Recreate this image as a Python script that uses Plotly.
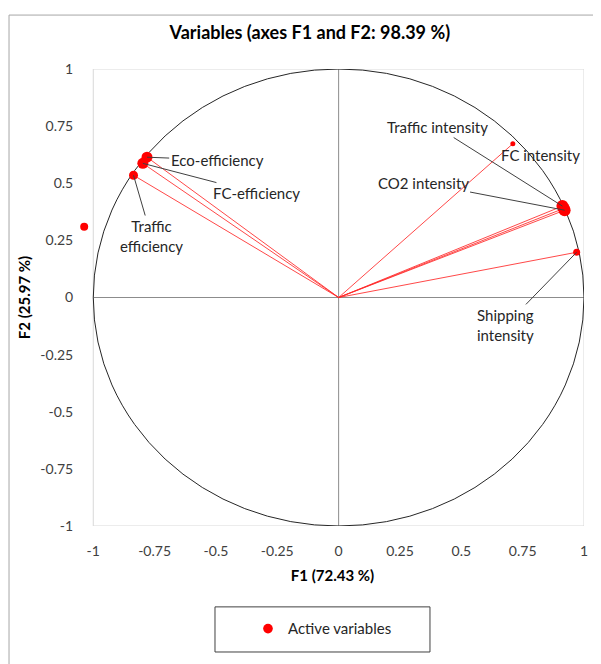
import plotly.graph_objects as go

# ---- data ----
var_names = ["Eco-efficiency", "FC-efficiency", "Traffic efficiency",
             "Traffic intensity", "FC intensity", "CO2 intensity",
             "Shipping intensity", "Unlabelled"]
f1 = [-0.781, -0.798, -0.836, 0.912, 0.918, 0.921, 0.970, 0.710]
f2 = [0.614, 0.587, 0.535, 0.400, 0.390, 0.382, 0.198, 0.673]
extra_f1 = [-1.037]
extra_f2 = [0.310]

tick_vals = [-1, -0.75, -0.5, -0.25, 0, 0.25, 0.5, 0.75, 1]
tick_text = ["-1", "-0.75", "-0.5", "-0.25", "0", "0.25", "0.5", "0.75", "1"]

title_text = "<b>Variables (axes F1 and F2: 98.39 %)</b>"
x_title = "<b>F1 (72.43 %)</b>"
y_title = "<b>F2 (25.97 %)</b>"
legend_name = "Active variables"

# label placement (text centre, data coords) and whether a leader line is drawn
label_pos = {
    "Eco-efficiency": (-0.495, 0.602, True),
    "FC-efficiency": (-0.334, 0.457, True),
    "Traffic efficiency": (-0.764, 0.269, True),
    "Traffic intensity": (0.401, 0.746, True),
    "FC intensity": (0.821, 0.624, False),
    "CO2 intensity": (0.344, 0.501, True),
    "Shipping intensity": (0.682, -0.120, True),
}
label_text = {
    "Traffic efficiency": "Traffic<br>efficiency",
    "Shipping intensity": "Shipping<br>intensity",
}

FONT = "Lato, 'Open Sans', sans-serif"
LABEL_FONT = dict(family=FONT, size=15, color="#262626")

fig = go.Figure()

# vectors from origin
lx, ly = [], []
for a, b in zip(f1, f2):
    lx += [0, a, None]
    ly += [0, b, None]
fig.add_trace(go.Scatter(x=lx, y=ly, mode="lines",
                         line=dict(color="rgba(255,40,40,0.85)", width=1),
                         showlegend=False, hoverinfo="skip"))

sizes = [11, 11, 9, 12, 12, 12, 7, 5]
fig.add_trace(go.Scatter(x=f1 + extra_f1, y=f2 + extra_f2, mode="markers",
                         marker=dict(color="#ff0000", size=sizes + [8], opacity=1,
                                     line=dict(width=0)),
                         name=legend_name, cliponaxis=False,
                         text=var_names + [""]))

annotations = []
for name, a, b in zip(var_names, f1, f2):
    if name not in label_pos:
        continue
    tx, ty, arrow = label_pos[name]
    if arrow:
        annotations.append(dict(
            x=a, y=b, xref="x", yref="y",
            ax=tx, ay=ty, axref="x", ayref="y",
            text=label_text.get(name, name), showarrow=True,
            arrowhead=0, arrowwidth=1, arrowcolor="#404040",
            standoff=0, startstandoff=0, font=LABEL_FONT))
    else:
        annotations.append(dict(
            x=tx, y=ty, xref="x", yref="y", text=label_text.get(name, name),
            showarrow=False, font=LABEL_FONT))

shapes = [
    # plot border (F1, F2 in [-1, 1])
    dict(type="rect", xref="x", yref="y", x0=-1, x1=1, y0=-1, y1=1,
         line=dict(color="#d9d9d9", width=1), layer="below"),
    # axes through origin
    dict(type="line", xref="x", yref="y", x0=-1, x1=1, y0=0, y1=0,
         line=dict(color="#8c8c8c", width=1), layer="below"),
    dict(type="line", xref="x", yref="y", x0=0, x1=0, y0=-1, y1=1,
         line=dict(color="#8c8c8c", width=1), layer="below"),
    # correlation circle
    dict(type="circle", xref="x", yref="y", x0=-1, y0=-1, x1=1, y1=1,
         line=dict(color="#262626", width=1), layer="below"),
    # legend box
    dict(type="rect", xref="paper", yref="paper", x0=0.2664, x1=0.6938,
         y0=-0.2757, y1=-0.177, line=dict(color="#404040", width=1)),
    # outer chart frame
    dict(type="rect", xref="paper", yref="paper", x0=-0.1431, x1=1.1,
         y0=-0.4, y1=1.118, line=dict(color="#a6a6a6", width=1)),
]

fig.update_layout(
    width=593, height=656,
    margin=dict(l=73, r=17, t=61, b=138, autoexpand=False),
    paper_bgcolor="white", plot_bgcolor="white",
    font=dict(family=FONT, size=14, color="#404040"),
    title=dict(text=title_text, x=0.455, xref="paper", xanchor="center",
               y=0.963, yanchor="middle",
               font=dict(family=FONT, size=18, color="black")),
    xaxis=dict(range=[-1.05, 1], tickvals=tick_vals, ticktext=tick_text,
               showgrid=False, zeroline=False, showline=False,
               ticks="outside", ticklen=12, tickcolor="rgba(0,0,0,0)",
               tickfont=dict(size=14, color="#404040"), automargin=False,
               title=dict(text=x_title, standoff=12,
                          font=dict(size=15, color="black"))),
    yaxis=dict(range=[-1, 1], tickvals=tick_vals, ticktext=tick_text,
               showgrid=False, zeroline=False, showline=False,
               ticks="outside", ticklen=4, tickcolor="rgba(0,0,0,0)",
               tickfont=dict(size=14, color="#404040"), automargin=False,
               title=dict(text=y_title, standoff=6,
                          font=dict(size=15, color="black"))),
    showlegend=True,
    legend=dict(x=0.332, y=-0.225, xanchor="left", yanchor="middle",
                bgcolor="rgba(0,0,0,0)", borderwidth=0,
                font=dict(family=FONT, size=15, color="#262626")),
    annotations=annotations, shapes=shapes,
)

fig.write_html("out.html")
